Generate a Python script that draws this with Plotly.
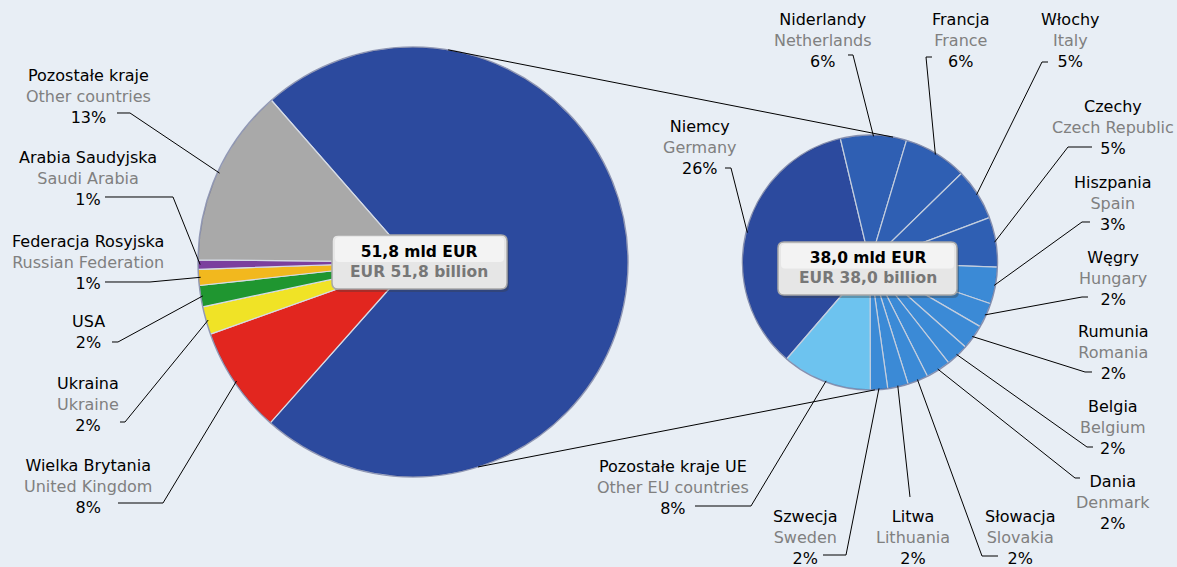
import math
import plotly.graph_objects as go

W, H = 1177, 567

# ---------------- data ----------------
left_pl = ["Unia Europejska", "Wielka Brytania", "Ukraina", "USA",
           "Federacja Rosyjska", "Arabia Saudyjska", "Pozostałe kraje"]
left_en = ["European Union", "United Kingdom", "Ukraine", "",
           "Russian Federation", "Saudi Arabia", "Other countries"]
left_values = [73.0, 8.0, 2.1, 1.6, 1.2, 0.7, 13.4]
left_pct = ["73%", "8%", "2%", "2%", "1%", "1%", "13%"]

right_pl = ["Niemcy", "Niderlandy", "Francja", "Włochy", "Czechy", "Hiszpania",
            "Węgry", "Rumunia", "Belgia", "Dania", "Słowacja", "Litwa",
            "Szwecja", "Pozostałe kraje UE"]
right_en = ["Germany", "Netherlands", "France", "Italy", "Czech Republic", "Spain",
            "Hungary", "Romania", "Belgium", "Denmark", "Slovakia", "Lithuania",
            "Sweden", "Other EU countries"]
right_values = [25.5, 6.1, 5.9, 4.8, 4.6, 3.4, 2.3, 2.3, 2.1, 2.3, 1.9, 1.9, 1.6, 8.3]
right_pct = ["26%", "6%", "6%", "5%", "5%", "3%", "2%", "2%", "2%", "2%", "2%",
             "2%", "2%", "8%"]

left_total = ["51,8 mld EUR", "EUR 51,8 billion"]
right_total = ["38,0 mld EUR", "EUR 38,0 billion"]

# ---------------- styles / layout ----------------
left_colors = ["#2c4a9e", "#e2261f", "#f0e326", "#1f9630", "#f2b81e", "#7b3f9e", "#a9a9a9"]
right_colors = ["#2c4a9e", "#2f5fb3", "#2f5fb3", "#2f5fb3", "#2f5fb3", "#3b8ad6",
                "#3b8ad6", "#3b8ad6", "#3b8ad6", "#3b8ad6", "#3b8ad6", "#3b8ad6",
                "#3b8ad6", "#6dc3ef"]

BG = "#e8eef5"
FONT = "DejaVu Sans"
FS = 16
LINE = 20.5
GRAY = "#808080"

L_CX, L_CY, L_R, L_ROT = 413, 262, 215, 318.8
R_CX, R_CY, R_R, R_ROT = 870, 262.5, 127.5, 220.8

# label layout: index -> (text centre x, first line y, stub start, stub elbow)
left_label_pos = {
    1: (88, 466, (118, 503), (163, 503)),
    2: (88, 384, (120, 422), (125, 422)),
    3: (88, 322, (112, 342), (118, 342)),
    4: (88, 242, (105, 282), (150, 282)),
    5: (88, 158, (105, 197), (173, 197)),
    6: (88, 76, (117, 113), (130, 113)),
}
right_label_pos = {
    0: (700, 127, (725, 168), (731, 168)),
    1: (823, 20, (848, 55), (853, 55)),
    2: (961, 20, (932, 57), (926, 57)),
    3: (1070, 20, (1048, 62), (1042, 62)),
    4: (1113, 107, (1092, 147), (1068, 147)),
    5: (1113, 183, (1090, 222), (1082, 222)),
    6: (1113, 258, (1088, 297), (1082, 297)),
    7: (1113, 332, (1092, 372), (1085, 372)),
    8: (1113, 407, (1093, 447), (1087, 447)),
    9: (1113, 482, (1080, 478), (1075, 478)),
    10: (1020, 517, (998, 556), (982, 556)),
    11: (913, 517, (910, 497), (910, 497)),
    12: (805, 517, (823, 555), (846, 555)),
    13: (673, 467, (695, 506), (751, 506)),
}

# connector angles (deg, clockwise from 12 o'clock)
CONN_TOP = (9.4, 10.4)
CONN_BOT = (162.4, 177.8)


def px(x):
    return x / W


def py(y):
    return 1 - y / H


def mid_angles(values, rotation):
    total = sum(values)
    out, cur = [], rotation
    for v in values:
        span = v / total * 360.0
        out.append(cur + span / 2)
        cur += span
    return out


def rim(cx, cy, r, ang):
    a = math.radians(ang)
    return cx + r * math.sin(a), cy - r * math.cos(a)


def pie_domain(cx, cy, r):
    return dict(x=[px(cx - r), px(cx + r)], y=[py(cy + r), py(cy - r)])


fig = go.Figure()
fig.add_trace(go.Pie(
    values=left_values, labels=left_pl, sort=False, direction="clockwise",
    rotation=L_ROT, textinfo="none", hoverinfo="label+percent",
    marker=dict(colors=left_colors, line=dict(color="#d5dbe6", width=1.2)),
    domain=pie_domain(L_CX, L_CY, L_R)))
fig.add_trace(go.Pie(
    values=right_values, labels=right_pl, sort=False, direction="clockwise",
    rotation=R_ROT, textinfo="none", hoverinfo="label+value",
    marker=dict(colors=right_colors, line=dict(color="#c4cede", width=1.2)),
    domain=pie_domain(R_CX, R_CY, R_R)))

shapes = []
annotations = []


def path_of(points):
    return "M " + " L ".join(f"{px(x):.5f},{py(y):.5f}" for x, y in points)


def add_line(points, width=1):
    shapes.append(dict(type="path", xref="paper", yref="paper", path=path_of(points),
                       line=dict(color="black", width=width)))


# outer rims
for cx, cy, r in [(L_CX, L_CY, L_R), (R_CX, R_CY, R_R)]:
    shapes.append(dict(type="circle", xref="paper", yref="paper",
                       x0=px(cx - r), x1=px(cx + r), y0=py(cy + r), y1=py(cy - r),
                       line=dict(color="rgba(20,30,90,0.35)", width=1.5)))

# connectors between pies
for la, ra in [CONN_TOP, CONN_BOT]:
    p1 = rim(L_CX, L_CY, L_R, la)
    p2 = rim(R_CX, R_CY, R_R, ra)
    add_line([p1, p2])


def label_text(pl, en, pct):
    if en:
        return f"{pl}<br><span style='color:{GRAY}'>{en}</span><br>{pct}"
    return f"{pl}<br>{pct}"


def add_labels(pl, en, pct, values, rotation, cx, cy, r, pos):
    mids = mid_angles(values, rotation)
    for i, (tx, ty, s0, s1) in pos.items():
        nlines = 3 if en[i] and en[i] != pl[i] else 2
        e = en[i] if nlines == 3 else ""
        annotations.append(dict(
            x=px(tx), y=py(ty + (nlines - 1) * LINE / 2), xref="paper", yref="paper",
            text=label_text(pl[i], e, pct[i]), showarrow=False, align="center",
            xanchor="center", yanchor="middle",
            font=dict(family=FONT, size=FS, color="black")))
        end = rim(cx, cy, r * 0.99, mids[i])
        add_line([s0, s1, end])


add_labels(left_pl, left_en, left_pct, left_values, L_ROT, L_CX, L_CY, L_R, left_label_pos)
add_labels(right_pl, right_en, right_pct, right_values, R_ROT, R_CX, R_CY, R_R, right_label_pos)


def rounded_path(x0, y0, x1, y1, rr):
    pts = [
        ("M", (x0 + rr, y0)), ("L", (x1 - rr, y0)), ("Q", (x1, y0), (x1, y0 + rr)),
        ("L", (x1, y1 - rr)), ("Q", (x1, y1), (x1 - rr, y1)), ("L", (x0 + rr, y1)),
        ("Q", (x0, y1), (x0, y1 - rr)), ("L", (x0, y0 + rr)), ("Q", (x0, y0), (x0 + rr, y0)),
    ]
    s = ""
    for item in pts:
        cmd = item[0]
        coords = " ".join(f"{px(x):.5f},{py(y):.5f}" for x, y in item[1:])
        s += f"{cmd} {coords} "
    return s + "Z"


def add_box(x0, y0, x1, y1, lines):
    shapes.append(dict(type="path", xref="paper", yref="paper",
                       path=rounded_path(x0 + 2, y0 + 3, x1 + 2, y1 + 3, 6),
                       fillcolor="rgba(60,60,60,0.35)", line=dict(width=0)))
    shapes.append(dict(type="path", xref="paper", yref="paper",
                       path=rounded_path(x0, y0, x1, y1, 6),
                       fillcolor="#e6e6e6", line=dict(color="#a8a8a8", width=1.5)))
    shapes.append(dict(type="path", xref="paper", yref="paper",
                       path=rounded_path(x0 + 3, y0 + 2, x1 - 3, (y0 + y1) / 2, 4),
                       fillcolor="#f3f3f3", line=dict(width=0)))
    annotations.append(dict(
        x=px((x0 + x1) / 2), y=py((y0 + y1) / 2), xref="paper", yref="paper",
        text=f"<b>{lines[0]}</b><br><b><span style='color:#777777'>{lines[1]}</span></b>",
        showarrow=False, align="center", xanchor="center", yanchor="middle",
        font=dict(family=FONT, size=15.5, color="black")))


add_box(332, 235, 507, 289, left_total)
add_box(778, 242, 957, 295, right_total)

fig.update_layout(
    width=W, height=H, autosize=False,
    margin=dict(l=0, r=0, t=0, b=0),
    paper_bgcolor=BG, plot_bgcolor=BG,
    showlegend=False,
    shapes=shapes, annotations=annotations,
    font=dict(family=FONT),
)

fig.write_html(
    "out.html",
    config={"displayModeBar": False},
    post_script="document.body.style.margin='0';document.body.style.padding='0';"
                "document.body.style.overflow='hidden';"
                "document.body.style.background='" + BG + "';",
)
